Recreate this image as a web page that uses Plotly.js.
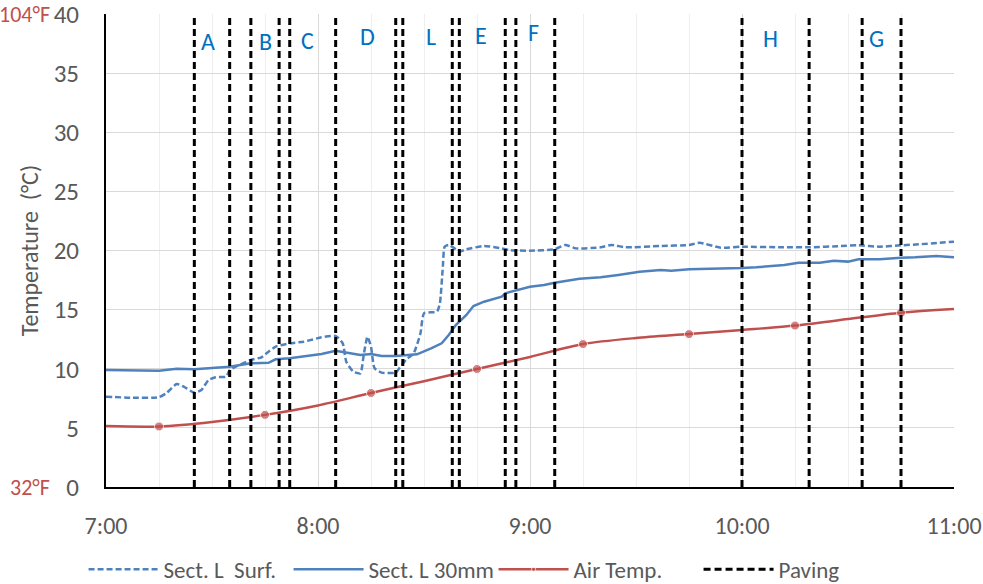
<!DOCTYPE html>
<html>
<head>
<meta charset="utf-8">
<script src="https://cdn.plot.ly/plotly-3.0.1.min.js"></script>
<style>html,body{margin:0;padding:0;background:#fff;}#chart{width:983px;height:584px;}</style>
</head>
<body>
<div id="chart"></div>
<script>
// ---- data (clock times, °C) ----
const surfTimes = ["7:00","7:07","7:15","7:17","7:20","7:22","7:25","7:27","7:29","7:31","7:34","7:35","7:41","7:44","7:46","7:48","7:52","7:56","8:01","8:05","8:07","8:08","8:10","8:12","8:13","8:14","8:15","8:16","8:18","8:22","8:23","8:25","8:27","8:29","8:30","8:33:40","8:34:30","8:35:20","8:35:50","8:37","8:39","8:40","8:42","8:47","8:52","8:54","9:00","9:07","9:10","9:13","9:20","9:23","9:27","9:37","9:45","9:48","9:54","10:00","10:11","10:19","10:28","10:33","10:39","10:45","10:50","10:56","11:00"];
const surfTemps = [7.64,7.55,7.6,7.92,8.71,8.48,7.98,8.2,9.05,9.28,9.33,9.89,10.74,10.97,11.44,11.87,12.15,12.29,12.66,12.77,12.15,10.6,9.75,9.61,11.3,12.71,11.87,10.04,9.67,9.67,10.04,10.8,11.25,13.0,14.69,14.83,15.53,18.63,20.32,20.47,20.1,19.9,20.1,20.38,20.18,20.04,19.98,20.1,20.47,20.18,20.27,20.47,20.27,20.38,20.47,20.66,20.24,20.32,20.27,20.27,20.38,20.44,20.32,20.44,20.52,20.66,20.75];

const mmTimes = ["7:00","7:15","7:20","7:25","7:35","7:41","7:46","7:48","7:52","8:01","8:05","8:08","8:12","8:15","8:18","8:22","8:26","8:28","8:32","8:35","8:37","8:39","8:42","8:44","8:47","8:52","8:53","8:56","9:00","9:04","9:07","9:14","9:20","9:25","9:31","9:37","9:40","9:45","9:54","10:00","10:04","10:12","10:16","10:22","10:26","10:30","10:33","10:39","10:45","10:49","10:55","11:00"];
const mmTemps = [9.89,9.84,10.0,9.95,10.17,10.46,10.5,10.8,10.88,11.25,11.53,11.36,11.16,11.25,11.08,11.08,11.16,11.22,11.73,12.15,12.85,13.7,14.55,15.3,15.67,16.09,16.38,16.6,16.94,17.08,17.28,17.61,17.73,17.93,18.21,18.35,18.29,18.41,18.44,18.52,18.58,18.77,18.97,18.97,19.14,19.06,19.26,19.26,19.39,19.42,19.53,19.42];

const airTimes = ["7:00","7:15","7:30","7:45","8:00","8:15","8:30","8:45","9:00","9:15","9:30","9:45","10:00","10:15","10:30","10:45","11:00"];
const airTemps = [5.15,5.12,5.5,6.1,6.9,7.95,8.95,9.98,11.0,12.09,12.6,12.93,13.28,13.65,14.2,14.74,15.05];
const airMarked = [false,true,false,true,false,true,false,true,false,true,false,true,false,true,false,true,false];

const pavingTimes = ["7:25","7:35","7:41","7:49","7:52","8:05","8:22","8:24","8:38","8:40","8:53","8:56","9:07","10:00","10:19","10:34","10:45"];
const pavingRange = [0, 40];

const zoneLabels = ["A","B","C","D","L","E","F","H","G"];
const zoneTimes = ["7:29","7:45","7:57","8:14","8:32","8:46","9:01","10:08","10:38"];
const zoneTemps = [37.66,37.66,37.8,38.1,38.1,38.2,38.4,37.9,37.9];

const seriesNames = ["Sect. L  Surf.","Sect. L 30mm","Air Temp.","Paving"];
const yTicks = [0,5,10,15,20,25,30,35,40];
const xTickTimes = ["7:00","8:00","9:00","10:00","11:00"];

// ---- helpers ----
function toDate(t){
  const p = t.split(":");
  const h = p[0].padStart(2,"0");
  const m = p[1].padStart(2,"0");
  const s = (p[2]||"00").padStart(2,"0");
  return "2024-01-01 " + h + ":" + m + ":" + s;
}

const FONT = "Carlito, 'Liberation Sans Narrow', 'Open Sans', sans-serif";
const GRAY = "#595959";
const BLUE = "#4F81BD";
const RED = "#C0504D";

const pavX = [], pavY = [];
pavingTimes.forEach(t => { pavX.push(toDate(t), toDate(t), null); pavY.push(pavingRange[0], pavingRange[1], null); });

const traces = [
  {x: surfTimes.map(toDate), y: surfTemps, name: seriesNames[0], mode: "lines",
   line: {color: BLUE, width: 2.5, dash: "6px,3px", shape: "spline", smoothing: 0.5}},
  {x: mmTimes.map(toDate), y: mmTemps, name: seriesNames[1], mode: "lines",
   line: {color: BLUE, width: 2.5}},
  {x: airTimes.map(toDate), y: airTemps, name: seriesNames[2], mode: "lines+markers",
   line: {color: RED, width: 2.5, shape: "spline", smoothing: 0.8},
   marker: {color: RED, size: airMarked.map(m => m ? 9 : 0)}},
  {x: pavX, y: pavY, name: seriesNames[3], mode: "lines", connectgaps: false,
   line: {color: "#000000", width: 3, dash: "7px,4px"}}
];

const annotations = zoneLabels.map((lab, i) => ({
  x: toDate(zoneTimes[i]), y: zoneTemps[i], xref: "x", yref: "y", text: lab, showarrow: false,
  font: {family: FONT, size: 24, color: "#0070C0"}, xanchor: "center", yanchor: "middle"
}));
annotations.push(
  {x: -0.064, y: 40, xref: "paper", yref: "y", text: "104°F", showarrow: false, xanchor: "right", yanchor: "middle",
   font: {family: FONT, size: 22, color: RED}},
  {x: -0.064, y: 0, xref: "paper", yref: "y", text: "32°F", showarrow: false, xanchor: "right", yanchor: "middle",
   font: {family: FONT, size: 22, color: RED}}
);

const layout = {
  width: 983, height: 584,
  margin: {l: 106, r: 29, t: 14, b: 97},
  paper_bgcolor: "#ffffff", plot_bgcolor: "#ffffff",
  font: {family: FONT, size: 24, color: GRAY},
  showlegend: true,
  legend: {orientation: "h", xref: "container", yref: "container", x: 0.085, y: 0.025, xanchor: "left", yanchor: "middle",
           font: {family: FONT, size: 23, color: GRAY}, itemwidth: 70, traceorder: "normal",
           entrywidth: 120, entrywidthmode: "pixels", bgcolor: "rgba(0,0,0,0)"},
  xaxis: {
    type: "date", range: [toDate("7:00"), toDate("11:00")],
    tickmode: "array", tickvals: xTickTimes.map(toDate), ticktext: xTickTimes,
    showgrid: true, gridcolor: "#D9D9D9", gridwidth: 1,
    minor: {dtick: 900000, showgrid: true, gridcolor: "#EEEEEE", gridwidth: 1},
    showline: true, linecolor: "#000000", linewidth: 2,
    ticks: "", ticklabelstandoff: 16, zeroline: false, ticklabeloverflow: "allow",
    tickfont: {family: FONT, size: 24, color: GRAY}
  },
  yaxis: {
    range: [0, 40], tickvals: yTicks, showgrid: true, gridcolor: "#D9D9D9", gridwidth: 1,
    showline: true, linecolor: "#000000", linewidth: 2, zeroline: false, ticks: "",
    ticklabelstandoff: 20, ticklabeloverflow: "allow",
    tickfont: {family: FONT, size: 25, color: GRAY},
    title: {text: "Temperature  (°C)", font: {family: FONT, size: 24, color: GRAY}, standoff: 8}
  },
  annotations: annotations
};

Plotly.newPlot("chart", traces, layout, {displayModeBar: false, staticPlot: true});
</script>
</body>
</html>
